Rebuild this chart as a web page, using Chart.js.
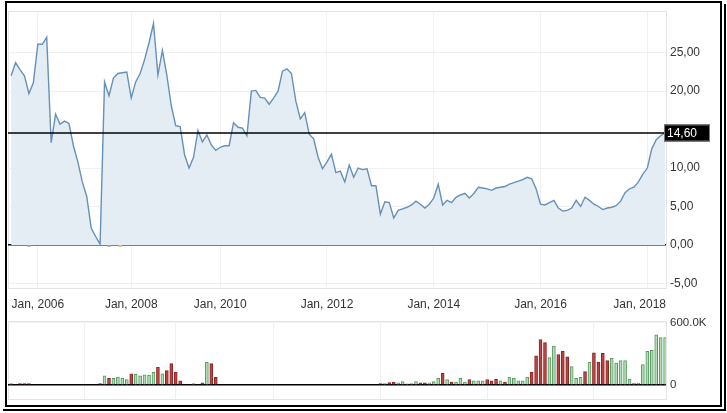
<!DOCTYPE html>
<html><head><meta charset="utf-8">
<script src="https://cdn.jsdelivr.net/npm/chart.js@4.4.1/dist/chart.umd.min.js"></script>
<style>
html,body{margin:0;padding:0;background:#fff;width:727px;height:413px;overflow:hidden;font-family:"Liberation Sans",Arial,sans-serif}
canvas{position:absolute;left:0}
#c1{top:0}
#c2{top:310px}
.ln{position:absolute;background:#000}
</style></head><body>
<canvas id="c1" width="727" height="320"></canvas>
<canvas id="c2" width="727" height="100"></canvas>
<div class="ln" style="left:5px;top:1px;width:717px;height:2px"></div>
<div class="ln" style="left:5px;top:1px;width:2px;height:406px"></div>
<div class="ln" style="left:720px;top:1px;width:2px;height:406px"></div>
<div class="ln" style="left:5px;top:405px;width:717px;height:2px"></div>
<div class="ln" style="left:724px;top:4px;width:2px;height:407px"></div>
<div class="ln" style="left:3px;top:409px;width:723px;height:2px"></div>
<script>
// ---- data (monthly points, ordinal axis) ----
const price = [
 22.0,23.7,22.8,22.0,19.7,21.1,26.1,26.1,27.0,13.3,
 17.0,15.7,16.1,15.8,12.9,10.8,8.2,6.3,2.2,1.1,
 0.1,21.2,19.4,21.7,22.3,22.4,22.5,19.1,21.2,22.3,
 24.1,26.3,28.8,22.1,25.3,22.1,18.1,15.5,15.4,11.7,
 10.0,11.4,14.9,13.4,14.3,13.0,12.3,12.7,12.9,12.9,
 15.9,15.3,15.2,14.2,20.0,20.1,19.2,19.1,18.3,19.1,
 20.0,22.6,22.9,22.3,18.7,16.4,17.2,14.4,13.8,11.4,
 9.9,10.8,11.8,9.4,9.6,8.2,10.4,8.8,10.0,9.8,
 9.9,7.7,7.7,4.0,5.6,5.5,3.5,4.5,4.7,4.9,
 5.2,5.7,5.3,4.8,5.3,6.1,7.9,5.2,5.8,5.5,
 6.2,6.5,6.7,6.1,6.7,7.5,7.4,7.3,7.1,7.4,
 7.5,7.6,7.9,8.1,8.3,8.5,8.8,8.6,7.3,5.3,
 5.2,5.5,5.8,4.8,4.4,4.5,4.8,5.8,5.0,6.2,
 5.8,5.3,5.0,4.6,4.8,4.9,5.1,5.7,6.8,7.3,
 7.5,8.2,9.2,10.0,12.5,13.7,14.2,14.6
];
// volume in thousands
const volume = [
 15,0,15,15,15,0,0,0,0,0,
 0,0,0,0,0,0,0,0,0,0,
 15,90,66,66,78,66,54,110,105,90,
 100,95,127,172,110,140,207,127,41,0,
 0,15,0,21,219,207,74,0,0,0,
 0,0,0,0,0,0,0,0,0,0,
 0,0,0,0,0,0,0,0,0,0,
 0,0,0,0,0,0,0,0,0,0,
 0,0,0,15,15,24,30,21,33,12,
 15,33,21,21,21,33,66,113,54,30,
 30,66,30,54,42,42,42,54,42,57,
 42,30,78,66,42,42,78,124,282,440,
 411,266,376,296,326,272,178,65,74,130,
 222,311,222,308,237,258,213,237,237,59,
 18,18,198,326,337,485,459,459
];
// 1 = up (green), -1 = down (red)
const direction = [
 1,0,-1,-1,-1,0,0,0,0,0,
 0,0,0,0,0,0,0,0,0,0,
 -1,1,-1,1,1,1,1,-1,1,1,
 1,1,1,-1,1,-1,-1,-1,-1,0,
 0,1,0,-1,1,-1,-1,0,0,0,
 0,0,0,0,0,0,0,0,0,0,
 0,0,0,0,0,0,0,0,0,0,
 0,0,0,0,0,0,0,0,0,0,
 0,0,0,-1,1,-1,-1,1,1,1,
 1,1,-1,-1,1,1,1,-1,1,-1,
 1,1,1,-1,1,1,1,-1,-1,-1,
 1,-1,1,1,1,1,1,-1,-1,-1,
 -1,1,1,-1,-1,-1,1,1,1,-1,
 1,-1,-1,-1,-1,1,1,1,1,1,
 1,1,1,1,1,1,1,1
];
const tickLabels = ['Jan, 2006','Jan, 2008','Jan, 2010','Jan, 2012','Jan, 2014','Jan, 2016','Jan, 2018'];
const tickIndex = [6,27,47,71,95,119,143];
const priceTicks = [-5,0,5,10,20,25];
const volumeTicks = [0,600000];
const lastPrice = 14.6;
const eventIndex = [4,22,24.5];
const eventKind = ['gray','gray','orange'];

// ---- styling ----
const FONT = '"Liberation Sans", Arial, sans-serif';
const GRID = '#f0f0f0';
const X_MIN = -0.7, X_MAX = 147.2;
const fmtPrice = v => v.toFixed(2).replace('.', ',');

const framePlugin = {
  id: 'frame',
  beforeDraw(chart) {
    const {ctx, chartArea: a} = chart;
    ctx.save();
    ctx.strokeStyle = '#e4e4e4';
    ctx.lineWidth = 1;
    ctx.strokeRect(Math.round(a.left) + 0.5, Math.round(a.top) + 0.5, Math.round(a.right - a.left), Math.round(a.bottom - a.top));
    ctx.restore();
    // keep last x label inside the plot area
    const sx = chart.scales.x;
    const getItems = sx && (sx.getLabelItems || sx._getLabelItems);
    if (getItems && sx.options.ticks.display) {
      try {
        const items = getItems.call(sx, a);
        const last = items[items.length - 1];
        if (last) {
          ctx.save();
          ctx.font = '12px ' + FONT;
          const w = ctx.measureText(last.label).width;
          ctx.restore();
          if (last.options.translation[0] + w / 2 > a.right) {
            last.options.translation[0] = a.right - w / 2;
          }
        }
      } catch (e) {}
    }
  }
};

const lastPricePlugin = {
  id: 'lastPrice',
  afterDatasetsDraw(chart) {
    const {ctx, chartArea: a} = chart;
    const y = Math.round(chart.scales.y.getPixelForValue(lastPrice));
    ctx.save();
    ctx.strokeStyle = '#000';
    ctx.lineWidth = 1.5;
    ctx.beginPath();
    ctx.moveTo(a.left, y);
    ctx.lineTo(a.right, y);
    ctx.stroke();
    const bx = a.right - 2, bw = 46, bh = 17;
    ctx.fillStyle = '#000';
    ctx.fillRect(bx, y - bh / 2, bw, bh);
    ctx.strokeStyle = '#777';
    ctx.lineWidth = 1;
    ctx.strokeRect(bx + 0.5, y - bh / 2 + 0.5, bw - 1, bh - 1);
    ctx.fillStyle = '#fff';
    ctx.font = '12px ' + FONT;
    ctx.textBaseline = 'middle';
    ctx.textAlign = 'left';
    ctx.fillText(fmtPrice(lastPrice), bx + 3, y + 1);
    ctx.restore();
  }
};

Chart.defaults.font.family = FONT;
Chart.defaults.font.size = 12;
Chart.defaults.color = '#333';

new Chart(document.getElementById('c1'), {
  type: 'line',
  data: {
    datasets: [
      {
        data: price.map((v, i) => ({x: i, y: v})),
        borderColor: '#6590b8',
        borderWidth: 1.4,
        backgroundColor: '#e5edf4',
        fill: 'origin',
        pointRadius: 0,
        tension: 0
      },
      {
        data: eventIndex.map(i => ({x: i, y: 0})),
        showLine: false,
        pointStyle: 'rect',
        pointRadius: 2.6,
        borderWidth: 0,
        backgroundColor: eventKind.map(k => k === 'orange' ? '#e8b463' : '#a0a0a0')
      }
    ]
  },
  options: {
    responsive: false,
    animation: false,
    devicePixelRatio: 1,
    layout: {padding: {left: 8, right: 6, top: 7, bottom: 7}},
    plugins: {legend: {display: false}, tooltip: {enabled: false}},
    scales: {
      x: {
        type: 'linear',
        min: X_MIN, max: X_MAX,
        afterBuildTicks: s => { s.ticks = tickIndex.map(v => ({value: v})); },
        afterFit: s => { s.height = 25; },
        grid: {color: GRID, drawTicks: false},
        border: {display: false},
        ticks: {
          autoSkip: false, maxRotation: 0, padding: 9, color: '#333',
          font: {size: 12},
          callback: v => tickLabels[tickIndex.indexOf(v)]
        }
      },
      y: {
        position: 'right',
        min: -5.6, max: 30.4,
        afterBuildTicks: s => { s.ticks = priceTicks.map(v => ({value: v})); },
        afterFit: s => { s.width = 55; },
        grid: {
          drawTicks: false,
          color: c => c.tick && c.tick.value === 0 ? '#000' : GRID,
          lineWidth: c => c.tick && c.tick.value === 0 ? 1.5 : 1
        },
        border: {display: false},
        ticks: {padding: 4, color: '#333', font: {size: 12}, callback: v => fmtPrice(v)}
      }
    }
  },
  plugins: [framePlugin, lastPricePlugin]
});

new Chart(document.getElementById('c2'), {
  type: 'bar',
  data: {
    datasets: [{
      data: volume.map((v, i) => ({x: i, y: v > 0 ? v * 1000 : null})),
      backgroundColor: direction.map(d => d > 0 ? '#b3dcb7' : '#b94545'),
      borderColor: direction.map(d => d > 0 ? '#549a5e' : '#8e2424'),
      borderWidth: 1,
      borderSkipped: 'bottom',
      barThickness: 3
    }]
  },
  options: {
    responsive: false,
    animation: false,
    devicePixelRatio: 1,
    layout: {padding: {left: 8, right: 6, top: 7, bottom: 8}},
    plugins: {legend: {display: false}, tooltip: {enabled: false}},
    scales: {
      x: {
        type: 'linear',
        min: X_MIN, max: X_MAX,
        offset: false,
        afterBuildTicks: s => { s.ticks = tickIndex.map(v => ({value: v})); },
        afterFit: s => { s.height = 0; },
        grid: {color: GRID, drawTicks: false},
        border: {display: false},
        ticks: {display: false}
      },
      y: {
        position: 'right',
        min: -135000, max: 620000,
        afterBuildTicks: s => { s.ticks = volumeTicks.map(v => ({value: v})); },
        afterFit: s => { s.width = 55; },
        grid: {
          drawTicks: false,
          color: c => c.tick && c.tick.value === 0 ? '#000' : GRID,
          lineWidth: c => c.tick && c.tick.value === 0 ? 1.5 : 1
        },
        border: {display: false},
        ticks: {padding: 4, color: '#333', font: {size: 11.5},
          callback: v => v === 0 ? '0' : (v / 1000).toFixed(1) + 'K'}
      }
    }
  },
  plugins: [framePlugin]
});
</script>
</body></html>
